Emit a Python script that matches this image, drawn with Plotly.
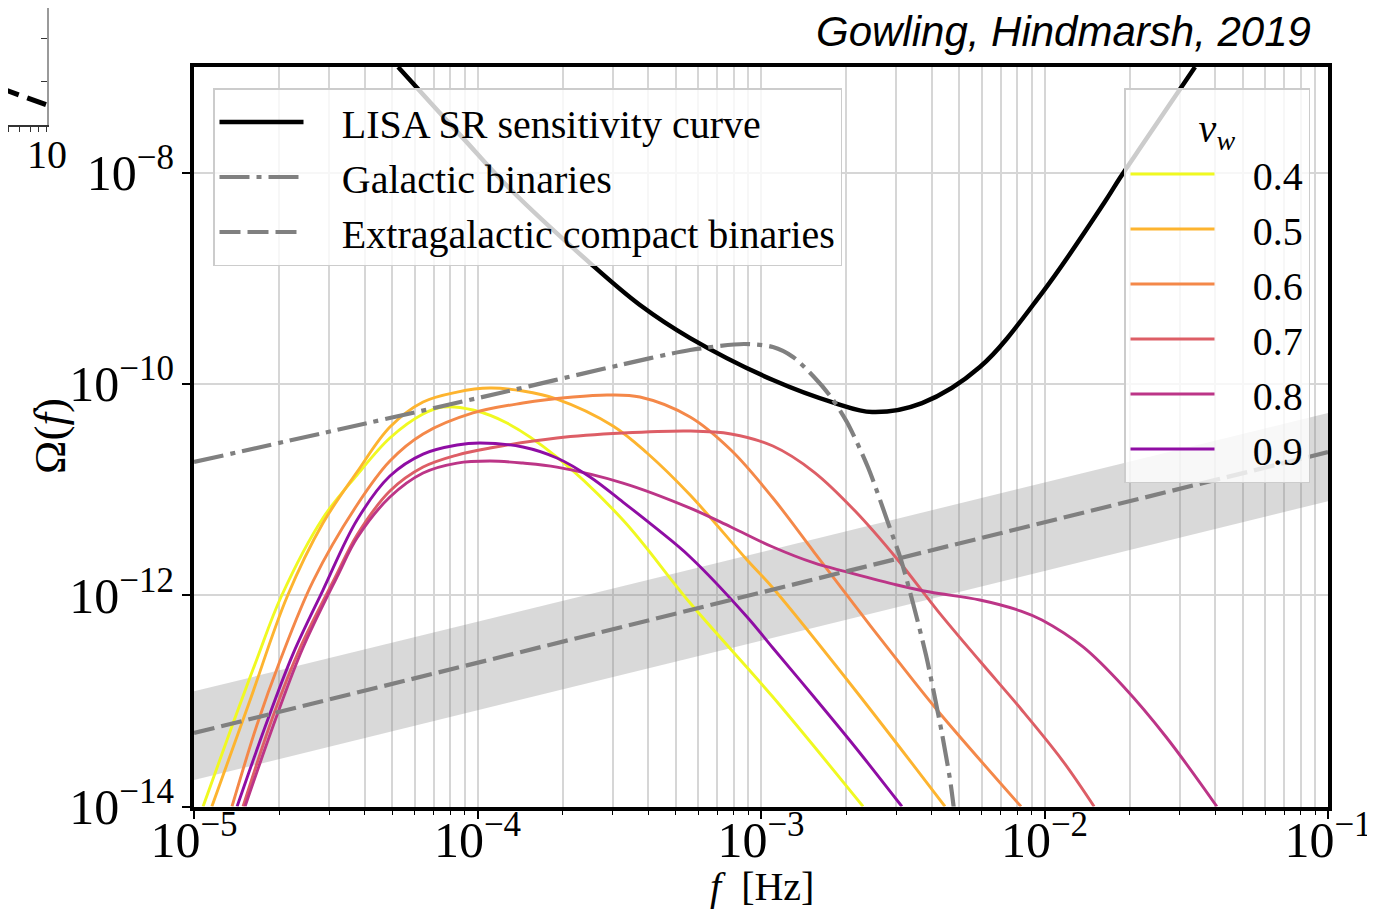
import numpy as np
import plotly.graph_objects as go

# ---------------- data (log10 f [Hz], log10 Omega) ----------------
lisa_logf = [-4.280, -4.168, -4.051, -3.885, -3.603, -3.427, -3.250, -2.958, -2.739, -2.608,
             -2.432, -2.228, -2.009, -1.790, -1.734, -1.646, -1.469]
lisa_logomega = [-7.00, -7.332, -7.673, -8.155, -8.856, -9.253, -9.566, -9.963, -10.181, -10.266,
                 -10.181, -9.840, -9.140, -8.288, -8.051, -7.701, -7.00]

gal_logf = [-5.0, -4.450, -3.921, -3.497, -3.250, -3.060, -2.958, -2.887, -2.813, -2.753,
            -2.697, -2.623, -2.549, -2.506, -2.464, -2.418, -2.390, -2.362, -2.333, -2.319]
gal_logomega = [-10.739, -10.408, -10.086, -9.821, -9.679, -9.622, -9.651, -9.745, -9.935, -10.124,
                -10.361, -10.787, -11.336, -11.667, -12.074, -12.566, -12.926, -13.304, -13.749, -14.033]

egb_logf = [-5.0, -3.0, -1.0]
egb_logomega = [-13.304, -11.974, -10.645]

band_logf = [-5.0, -1.0]
band_upper = [-12.91, -10.275]
band_lower = [-13.75, -11.11]

vw_labels = ["0.4", "0.5", "0.6", "0.7", "0.8", "0.9"]
vw_colors = ["#f0f921", "#fdb42f", "#f48849", "#dd5e66", "#bc3587", "#8f0da4"]

vw04_logf = [-4.968, -4.862, -4.778, -4.693, -4.545, -4.425, -4.309, -4.192, -4.122, -4.016,
             -3.896, -3.720, -3.487, -3.250, -2.958, -2.640]
vw04_logomega = [-14.0, -13.210, -12.604, -12.017, -11.269, -10.862, -10.512, -10.285, -10.219, -10.247,
                 -10.370, -10.692, -11.288, -12.074, -12.964, -14.0]

vw05_logf = [-4.937, -4.802, -4.672, -4.545, -4.425, -4.309, -4.192, -4.072, -3.956, -3.840,
             -3.720, -3.522, -3.402, -3.250, -3.049, -2.958, -2.668, -2.351]
vw05_logomega = [-14.0, -12.992, -12.017, -11.317, -10.834, -10.408, -10.171, -10.077, -10.039, -10.067,
                 -10.143, -10.398, -10.654, -11.052, -11.667, -11.932, -12.897, -14.0]

vw06_logf = [-4.866, -4.778, -4.697, -4.580, -4.425, -4.309, -4.192, -4.016, -3.840, -3.663,
             -3.543, -3.427, -3.250, -3.106, -2.958, -2.813, -2.668, -2.520, -2.376, -2.083]
vw06_logomega = [-14.0, -13.229, -12.623, -11.866, -11.146, -10.730, -10.474, -10.275, -10.181, -10.124,
                 -10.105, -10.124, -10.313, -10.626, -11.080, -11.591, -12.102, -12.613, -13.096, -14.0]

vw07_logf = [-4.827, -4.721, -4.626, -4.503, -4.425, -4.309, -4.192, -4.072, -3.956, -3.720,
             -3.487, -3.250, -3.106, -2.958, -2.813, -2.668, -2.520, -2.376, -2.228, -2.083,
             -1.938, -1.825]
vw07_logomega = [-14.0, -13.143, -12.500, -11.837, -11.430, -11.014, -10.787, -10.673, -10.607, -10.512,
                 -10.465, -10.446, -10.474, -10.588, -10.834, -11.203, -11.657, -12.150, -12.623, -13.077,
                 -13.560, -14.0]

vw08_logf = [-4.820, -4.707, -4.616, -4.492, -4.425, -4.309, -4.192, -4.072, -3.956, -3.840,
             -3.720, -3.487, -3.250, -3.106, -2.958, -2.813, -2.697, -2.520, -2.404, -2.228,
             -2.083, -2.009, -1.864, -1.720, -1.571, -1.392]
vw08_logomega = [-14.0, -13.134, -12.500, -11.809, -11.459, -11.071, -10.843, -10.749, -10.730, -10.749,
                 -10.787, -10.938, -11.175, -11.354, -11.544, -11.695, -11.780, -11.903, -11.970, -12.045,
                 -12.150, -12.235, -12.490, -12.869, -13.342, -14.0]

vw09_logf = [-4.848, -4.743, -4.651, -4.545, -4.425, -4.309, -4.192, -4.072, -3.991, -3.840,
             -3.720, -3.603, -3.487, -3.367, -3.250, -3.049, -2.958, -2.813, -2.668, -2.503]
vw09_logomega = [-14.0, -13.200, -12.557, -11.951, -11.288, -10.872, -10.664, -10.578, -10.559, -10.597,
                 -10.701, -10.881, -11.118, -11.373, -11.638, -12.206, -12.500, -12.964, -13.437, -14.0]

# cropped fragment of a neighbouring panel (top-left corner)
frag_x = [5.38, 10.0]
frag_y = [0.296, 0.16]
frag_major = [10]
frag_minor = [6, 7, 8, 9]

# ---------------- figure ----------------
# the page body has an 8 px margin: work in page pixels and shift
OX, OY = 8, 8
W, H = 1375 - OX, 912 - OY
SERIF = "Liberation Serif, Times New Roman, serif"
GAP = "\u2002\u2004"


def fx(x):
    return (x - OX) / W


def fy(y):
    return 1 - (y - OY) / H


def p(v):
    return 10 ** np.array(v)


fig = go.Figure()

# band around extragalactic binaries
fig.add_trace(go.Scatter(x=p(band_logf), y=p(band_lower), mode="lines", line=dict(width=0),
                         showlegend=False, hoverinfo="skip"))
fig.add_trace(go.Scatter(x=p(band_logf), y=p(band_upper), mode="lines", line=dict(width=0),
                         fill="tonexty", fillcolor="rgba(128,128,128,0.30)",
                         showlegend=False, hoverinfo="skip"))

vw_series = [(vw04_logf, vw04_logomega), (vw05_logf, vw05_logomega), (vw06_logf, vw06_logomega),
             (vw07_logf, vw07_logomega), (vw08_logf, vw08_logomega), (vw09_logf, vw09_logomega)]
for i, (lab, col, (lf, lo)) in enumerate(zip(vw_labels, vw_colors, vw_series)):
    fig.add_trace(go.Scatter(x=p(lf), y=p(lo), mode="lines", name=GAP + lab,
                             legendgroup="vw%d" % i, legendrank=10 + i,
                             line=dict(color=col, width=2.9, shape="spline", smoothing=1.0),
                             legend="legend2"))

fig.add_trace(go.Scatter(x=p(lisa_logf), y=p(lisa_logomega), mode="lines",
                         name=GAP + "LISA SR sensitivity curve", legendrank=1, legendgroup="lisa",
                         line=dict(color="black", width=4.5, shape="spline", smoothing=1.0)))
fig.add_trace(go.Scatter(x=p(egb_logf), y=p(egb_logomega), mode="lines",
                         name=GAP + "Extragalactic compact binaries", legendrank=3, legendgroup="egb",
                         line=dict(color="#808080", width=4.2, dash="21px,7px")))
fig.add_trace(go.Scatter(x=p(gal_logf), y=p(gal_logomega), mode="lines",
                         name=GAP + "Galactic binaries", legendrank=2, legendgroup="gal",
                         line=dict(color="#808080", width=4.2, dash="30px,7px,5px,7px",
                                   shape="spline", smoothing=0.8)))

# fragment of the neighbouring panel
fig.add_trace(go.Scatter(x=frag_x, y=frag_y, mode="lines", xaxis="x2", yaxis="y2",
                         line=dict(color="black", width=5, dash="20px,9px"),
                         showlegend=False, hoverinfo="skip"))

grid_col = "#d6d6d6"
fig.update_layout(
    template="none",
    width=W, height=H,
    margin=dict(l=0, r=0, t=0, b=0, pad=0),
    paper_bgcolor="white", plot_bgcolor="white",
    font=dict(family=SERIF, color="black", size=36),
    showlegend=True,
    xaxis=dict(type="log", range=[-5, -1], domain=[fx(194), fx(1328)], anchor="y", automargin=False,
               showline=True, linecolor="black", linewidth=4, mirror=True,
               ticks="outside", ticklen=8, tickwidth=1.5, tickcolor="black",
               dtick=1, exponentformat="power", showexponent="all", ticklabelstandoff=-20,
               tickfont=dict(family=SERIF, size=40),
               showgrid=True, gridcolor=grid_col, gridwidth=1.5, zeroline=False,
               minor=dict(dtick="D1", ticks="outside", ticklen=4, tickwidth=1, tickcolor="black",
                          showgrid=True, gridcolor=grid_col, gridwidth=1.5)),
    yaxis=dict(type="log", range=[-14, -7], domain=[fy(806.5), fy(67)], anchor="x",
               automargin=False,
               showline=True, linecolor="black", linewidth=4, mirror=True,
               ticks="outside", ticklen=8, tickwidth=1.5, tickcolor="black",
               dtick=2, exponentformat="power", showexponent="all",
               tickfont=dict(family=SERIF, size=40),
               showgrid=True, gridcolor=grid_col, gridwidth=1.5, zeroline=False),
    xaxis2=dict(type="log", range=[0.777, 1.0005], domain=[0, fx(47)], anchor="y2",
                automargin=False,
                showline=True, linecolor="#333333", linewidth=2, ticks="outside", ticklen=5,
                tickcolor="#333333", tickmode="array", tickvals=frag_major, ticktext=["10"],
                ticklabelstandoff=-12,
                minor=dict(tickmode="array", tickvals=frag_minor, ticks="outside", ticklen=5,
                           tickcolor="#333333", showgrid=False),
                tickfont=dict(family=SERIF, size=40), showgrid=False, zeroline=False),
    yaxis2=dict(range=[0, (125 - OY) / 125], domain=[fy(125), 1], anchor="x2", side="right",
                automargin=False,
                showline=True, linecolor="#9a9a9a", linewidth=2, ticks="inside", ticklen=6,
                tickcolor="#333333", tickvals=[0.352, 0.696], showticklabels=False,
                showgrid=False, zeroline=False),
    legend=dict(x=fx(213), y=fy(88), xanchor="left", yanchor="top", traceorder="normal",
                bgcolor="rgba(255,255,255,0.8)", bordercolor="#cccccc", borderwidth=1.5,
                font=dict(family=SERIF, size=40), itemwidth=84, tracegroupgap=2),
    legend2=dict(x=fx(1310), y=fy(88), xanchor="right", yanchor="top", traceorder="normal",
                 bgcolor="rgba(255,255,255,0.8)", bordercolor="#cccccc", borderwidth=1.5,
                 font=dict(family=SERIF, size=40), itemwidth=84, tracegroupgap=2,
                 title=dict(text="<i>v</i><sub><i>w</i></sub>", side="top center",
                            font=dict(family=SERIF, size=40))),
    annotations=[
        dict(text="<i>Gowling, Hindmarsh, 2019</i>", x=fx(1313), y=fy(31),
             xref="paper", yref="paper", xanchor="right", yanchor="middle", showarrow=False,
             font=dict(family="Liberation Sans, Arial, sans-serif", size=42, color="black")),
        dict(text="Ω(<i>f</i>)", x=fx(50), y=fy(436), xref="paper", yref="paper",
             xanchor="center", yanchor="middle", textangle=-90, showarrow=False,
             font=dict(family=SERIF, size=45)),
        dict(text="<i>f</i>  [Hz]", x=fx(762), y=fy(886), xref="paper", yref="paper",
             xanchor="center", yanchor="middle", showarrow=False,
             font=dict(family=SERIF, size=40)),
    ],
)

fig.write_html("out.html")
